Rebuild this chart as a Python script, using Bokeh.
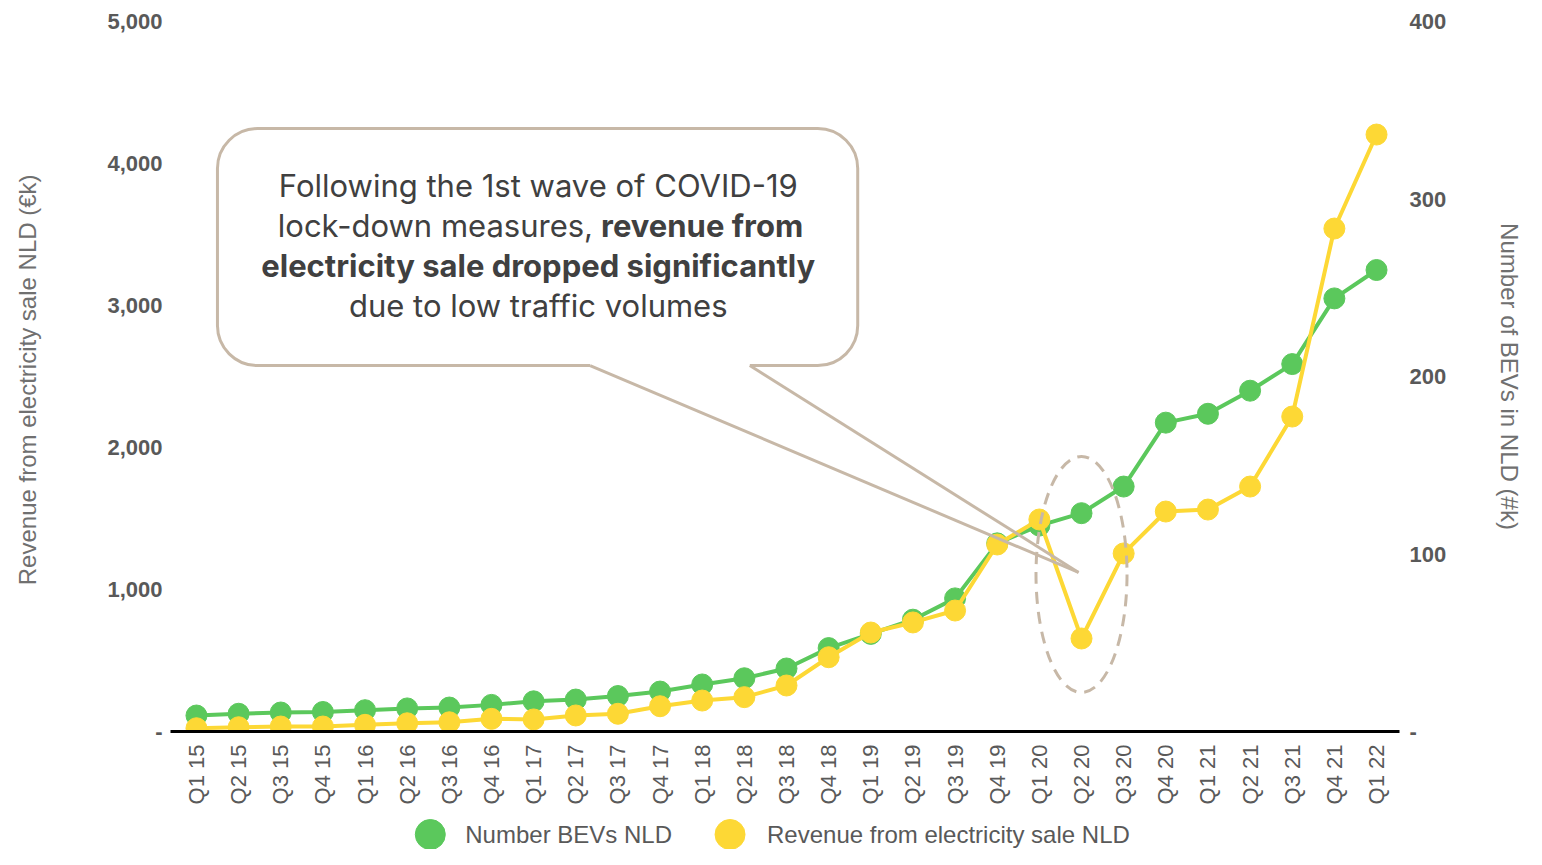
import math
from bokeh.plotting import figure
from bokeh.layouts import column
from bokeh.models import (Range1d, LinearAxis, FixedTicker, NumeralTickFormatter,
                          BoxAnnotation, Label)
from bokeh.core.properties import value
from bokeh.embed import file_html
from bokeh.resources import INLINE

# ---------------- data ----------------
quarters = ["Q1 15", "Q2 15", "Q3 15", "Q4 15",
            "Q1 16", "Q2 16", "Q3 16", "Q4 16",
            "Q1 17", "Q2 17", "Q3 17", "Q4 17",
            "Q1 18", "Q2 18", "Q3 18", "Q4 18",
            "Q1 19", "Q2 19", "Q3 19", "Q4 19",
            "Q1 20", "Q2 20", "Q3 20", "Q4 20",
            "Q1 21", "Q2 21", "Q3 21", "Q4 21",
            "Q1 22"]
bev_k = [9, 10, 10.7, 11, 12, 13, 13.5, 15, 17, 18, 20, 22.5, 26.5, 30, 35.5, 47,
         55, 63, 75, 106, 116, 123, 138, 174, 179, 192, 207, 244, 260]
revenue_k = [23, 30, 35, 35, 47, 58, 65, 89, 85, 113, 125, 178, 218, 242, 324, 523,
             697, 768, 852, 1317, 1493, 655, 1254, 1549, 1563, 1725, 2218, 3542, 4204]
left_ticks = [0, 1000, 2000, 3000, 4000, 5000]
right_ticks = [0, 100, 200, 300, 400]
legend_labels = ["Number BEVs NLD", "Revenue from electricity sale NLD"]

idx = list(range(len(quarters)))

GREEN = "#5bc85c"
YELLOW = "#fdd835"
BEIGE = "#c7b8a7"
TXT = "#595959"
TITLE = "#707070"

W = 1526
FL, FR = 170, 1400   # frame left / right in pixels
p = figure(width=W, height=815, output_backend="svg", toolbar_location=None,
           x_range=Range1d(-0.616, 28.545), y_range=Range1d(0, 5000),
           min_border_left=FL, min_border_right=W - FR, min_border_top=21,
           min_border_bottom=84)
p.extra_y_ranges = {"bev": Range1d(0, 400)}
p.grid.visible = False
p.outline_line_color = None
p.background_fill_color = "white"
p.border_fill_color = "white"

# x axis
xa = p.xaxis[0]
xa.ticker = FixedTicker(ticks=idx)
xa.major_label_overrides = {i: q for i, q in zip(idx, quarters)}
xa.major_label_orientation = math.pi / 2
xa.axis_line_color = "black"
xa.axis_line_width = 3
xa.major_tick_line_color = None
xa.minor_tick_line_color = None
xa.major_tick_out = 0
xa.major_tick_in = 0
xa.major_label_standoff = 13
xa.major_label_text_font = "Liberation Sans"
xa.major_label_text_font_size = "22px"
xa.major_label_text_color = TXT

# left axis
ya = p.yaxis[0]
ya.ticker = FixedTicker(ticks=left_ticks)
ya.formatter = NumeralTickFormatter(format="0,0")
ya.major_label_overrides = {0: "-"}
ya.axis_line_color = None
ya.major_tick_line_color = None
ya.minor_tick_line_color = None
ya.major_tick_out = 0
ya.major_tick_in = 0
ya.major_label_standoff = 8
ya.major_label_text_font = "Liberation Sans"
ya.major_label_text_font_style = "bold"
ya.major_label_text_font_size = "22px"
ya.major_label_text_color = TXT
ya.axis_label = "Revenue from electricity sale NLD  (€k)"
ya.axis_label_text_font = "Liberation Sans"
ya.axis_label_text_font_style = "normal"
ya.axis_label_text_font_size = "24px"
ya.axis_label_text_color = TITLE
ya.axis_label_standoff = 63

# right axis
ra = LinearAxis(y_range_name="bev", ticker=FixedTicker(ticks=right_ticks))
ra.major_label_overrides = {0: "-"}
ra.axis_line_color = None
ra.major_tick_line_color = None
ra.minor_tick_line_color = None
ra.major_tick_out = 0
ra.major_tick_in = 0
ra.major_label_standoff = 10
ra.major_label_text_font = "Liberation Sans"
ra.major_label_text_font_style = "bold"
ra.major_label_text_font_size = "22px"
ra.major_label_text_color = TXT
ra.axis_label = "Number of BEVs in NLD (#k)"
ra.axis_label_text_font = "Liberation Sans"
ra.axis_label_text_font_style = "normal"
ra.axis_label_text_font_size = "24px"
ra.axis_label_text_color = TITLE
ra.axis_label_standoff = 47
p.add_layout(ra, "right")

# series
p.line(idx, bev_k, y_range_name="bev", line_color=GREEN, line_width=4)
p.scatter(idx, bev_k, y_range_name="bev", size=21, fill_color=GREEN, line_color=GREEN)
p.line(idx, revenue_k, line_color=YELLOW, line_width=4)
p.scatter(idx, revenue_k, size=21, fill_color=YELLOW, line_color=YELLOW)

# dashed ellipse highlighting Q2 20
p.ellipse(x=[21.0], y=[1106], width=[2.16], height=[1662], fill_color=None,
          line_color=BEIGE, line_width=3, line_dash="12 8")

# callout box
box = BoxAnnotation(left=0.498, right=15.69, top=4246, bottom=2577,
                    fill_color="white", fill_alpha=1.0, line_color=BEIGE,
                    line_alpha=1.0, line_width=3, border_radius=40)
p.add_layout(box)

FONT = "Inter"
FS = "31px"
CT = "#404040"
cx = 8.11
p.add_layout(Label(x=cx, y=3845, text="Following the 1st wave of COVID-19",
                   text_align="center", text_baseline="middle", text_font=FONT,
                   text_font_size=FS, text_color=CT))
p.add_layout(Label(x=9.41, y=3563, text="lock-down measures,",
                   text_align="right", text_baseline="middle", text_font=FONT,
                   text_font_size=FS, text_color=CT))
p.add_layout(Label(x=9.6, y=3563, text="revenue from",
                   text_align="left", text_baseline="middle", text_font=FONT,
                   text_font_size=FS, text_font_style="bold", text_color=CT))
p.add_layout(Label(x=cx, y=3282, text="electricity sale dropped significantly",
                   text_align="center", text_baseline="middle", text_font=FONT,
                   text_font_size=FS, text_font_style="bold", text_color=CT))
p.add_layout(Label(x=cx, y=3000, text="due to low traffic volumes",
                   text_align="center", text_baseline="middle", text_font=FONT,
                   text_font_size=FS, text_color=CT))

# callout pointer
gap = p.segment(x0=[9.34], y0=[2577], x1=[13.13], y1=[2577], line_color="white",
                line_width=6)
gap.level = "overlay"
pt1 = p.line([9.34, 20.93], [2577, 1120], line_color=BEIGE, line_width=3)
pt1.level = "overlay"
pt2 = p.line([13.13, 20.93], [2577, 1120], line_color=BEIGE, line_width=3)
pt2.level = "overlay"

# legend strip (separate small figure below the chart; its frame aligns with the chart frame)
LH = 34
leg = figure(width=W, height=LH, output_backend="svg", toolbar_location=None,
             x_range=Range1d(FL, FR), y_range=Range1d(0, LH),
             x_axis_location=None, y_axis_location=None,
             min_border_left=FL, min_border_right=W - FR,
             min_border_top=0, min_border_bottom=0)
leg.grid.visible = False
leg.outline_line_color = None
leg.scatter(x=[430, 730], y=[15, 15], size=30, fill_color=[GREEN, YELLOW],
            line_color=[GREEN, YELLOW])
leg.text(x=[465, 767], y=[15, 15], text=legend_labels, text_baseline="middle",
         text_align="left", text_font=value("Liberation Sans"),
         text_font_size="24px", text_color=TXT)

layout = column(p, leg, spacing=0)
open("out.html", "w").write(file_html(layout, INLINE))
